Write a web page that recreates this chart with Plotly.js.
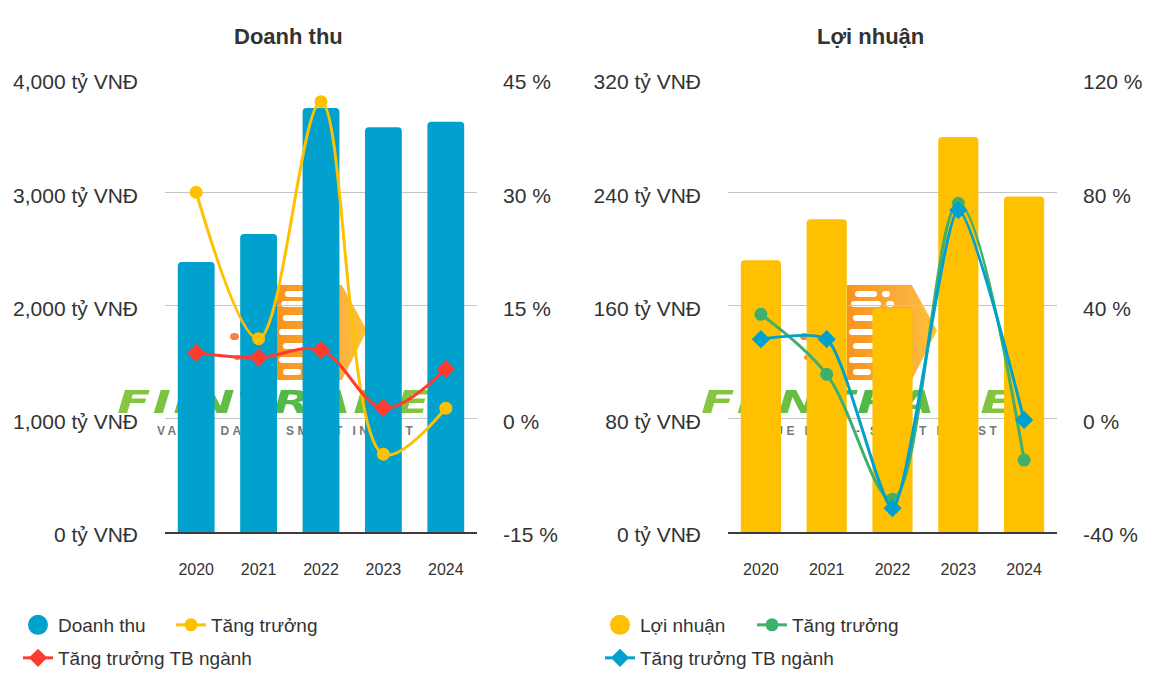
<!DOCTYPE html>
<html>
<head>
<meta charset="utf-8">
<script src="https://cdn.plot.ly/plotly-3.0.1.min.js"></script>
<style>
  html, body { margin:0; padding:0; background:#ffffff; }
  #wrap { position:relative; width:1157px; height:684px; overflow:hidden; }
  #chart { position:absolute; left:0; top:0; width:1157px; height:684px; z-index:2; }
  .wm { position:absolute; z-index:1; }
  .wm-text { font-family:"DejaVu Sans", sans-serif; font-weight:bold; font-style:italic;
    font-size:40px; letter-spacing:2px; line-height:40px; white-space:nowrap;
    background:linear-gradient(90deg,#8cc63f,#4db848 50%,#8cc63f); -webkit-background-clip:text;
    background-clip:text; color:transparent; transform:scaleX(1.22) scaleY(0.8); transform-origin:left top; }
  .wm-sub { font-family:"Liberation Sans", Arial, sans-serif; font-weight:bold; font-size:12px;
    letter-spacing:3.4px; color:#77787b; white-space:nowrap; }
  .wm-box { background:linear-gradient(90deg,#f7941d,#fbb040 70%,#fdc431);
    clip-path:polygon(0 0,72% 0,100% 48%,72% 100%,0 100%); }
  .pill { position:absolute; background:#fff; border-radius:4px; height:6px; }
  .dot { position:absolute; background:#f26f21; border-radius:50%; }
</style>
</head>
<body>
<div id="wrap">
  <div id="chart"></div>
</div>
<script>
// ---- data ----
const years = ['2020', '2021', '2022', '2023', '2024'];
const revenue = [2385, 2632, 3743, 3575, 3622];
const revenueGrowth = [30.0, 10.6, 42.0, -4.7, 1.4];
const revenueIndustry = [8.7, 8.1, 9.1, 1.4, 6.6];
const profit = [192, 221, 158, 279, 237];
const profitGrowth = [36.9, 15.7, -28.4, 76.1, -14.6];
const profitIndustry = [28.1, 28.1, -31.6, 73.7, -0.4];

const revenueTicks = [0, 1000, 2000, 3000, 4000];
const revenuePctTicks = [-15, 0, 15, 30, 45];
const profitTicks = [0, 80, 160, 240, 320];
const profitPctTicks = [-40, 0, 40, 80, 120];

const leftTitle = 'Doanh thu';
const rightTitle = 'Lợi nhuận';
const growthName = 'Tăng trưởng';
const industryName = 'Tăng trưởng TB ngành';

// ---- watermark (behind the transparent plot) ----
function addLogo(dxBox, dxText) {
  const wrap = document.getElementById('wrap');
  const box = document.createElement('div');
  box.className = 'wm wm-box';
  Object.assign(box.style, {left:(277+dxBox)+'px', top:'285px', width:'90px', height:'95px'});
  const rows = [[6,8,22],[16,4,30],[30,6,26],[44,2,34],[58,6,28],[72,2,24],[84,6,18]];
  rows.forEach(r => {
    const p = document.createElement('div');
    p.className = 'pill';
    Object.assign(p.style, {top:r[0]+'px', left:r[1]+'px', width:r[2]+'px'});
    box.appendChild(p);
    const p2 = document.createElement('div');
    p2.className = 'pill';
    Object.assign(p2.style, {top:r[0]+'px', left:(r[1]+r[2]+5)+'px', width:'8px'});
    box.appendChild(p2);
  });
  wrap.appendChild(box);
  const dots = [[258,290,5],[262,303,6],[250,312,7],[240,322,8],[262,326,6],[230,333,9],[252,338,7],[266,344,6],[234,355,7],[258,360,6],[248,372,5],[262,372,5]];
  dots.forEach(d => {
    const e = document.createElement('div');
    e.className = 'wm dot';
    Object.assign(e.style, {left:(d[0]+dxBox)+'px', top:d[1]+'px', width:d[2]+'px', height:(d[2]*0.75)+'px', opacity:0.85});
    wrap.appendChild(e);
  });
  const t = document.createElement('div');
  t.className = 'wm wm-text';
  t.textContent = 'FIINTRADE';
  Object.assign(t.style, {left:(117+dxText)+'px', top:'386px'});
  wrap.appendChild(t);
  const s = document.createElement('div');
  s.className = 'wm wm-sub';
  s.textContent = 'VALUE DATA - SMART INVEST';
  Object.assign(s.style, {left:(157+dxText)+'px', top:'424px'});
  wrap.appendChild(s);
}
addLogo(0, 0);
addLogo(570, 584);

// ---- plot ----
const W = 1157, H = 684;
const FONT = '"Liberation Sans", Arial, sans-serif';
const TXT = '#333333';
const BLUE = '#00a1cd', YELLOW = '#ffc000', RED = '#ff3b2f', GREEN = '#3faf6c';

const yTop = 1 - 79 / H, yBot = 1 - 532 / H;

function legendMarker(name, color, leg, xa, ya) {
  return {x:[null], y:[null], type:'scatter', mode:'markers', name:name, legend:leg,
    marker:{symbol:'circle', size:16, color:color, line:{color:color, width:4}},
    hoverinfo:'skip', xaxis:xa, yaxis:ya};
}

const traces = [
  {x:years, y:revenue, type:'bar', xaxis:'x', yaxis:'y', width:0.59, showlegend:false,
   marker:{color:BLUE, cornerradius:4}, hoverinfo:'skip'},
  legendMarker(leftTitle, BLUE, 'legend', 'x', 'y'),
  {x:years, y:revenueGrowth, type:'scatter', mode:'lines+markers', xaxis:'x', yaxis:'y2',
   name:growthName, legend:'legend', line:{color:YELLOW, width:3, shape:'spline', smoothing:1},
   marker:{symbol:'circle', size:13, color:YELLOW}, hoverinfo:'skip'},
  {x:years, y:revenueIndustry, type:'scatter', mode:'lines+markers', xaxis:'x', yaxis:'y2',
   name:industryName, legend:'legend2', line:{color:RED, width:3, shape:'spline', smoothing:1},
   marker:{symbol:'diamond', size:14, color:RED}, hoverinfo:'skip'},
  {x:years, y:profit, type:'bar', xaxis:'x2', yaxis:'y3', width:0.61, showlegend:false,
   marker:{color:YELLOW, cornerradius:4}, hoverinfo:'skip'},
  legendMarker(rightTitle, YELLOW, 'legend3', 'x2', 'y3'),
  {x:years, y:profitGrowth, type:'scatter', mode:'lines+markers', xaxis:'x2', yaxis:'y4',
   name:growthName, legend:'legend3', line:{color:GREEN, width:3, shape:'spline', smoothing:1},
   marker:{symbol:'circle', size:13, color:GREEN}, hoverinfo:'skip'},
  {x:years, y:profitIndustry, type:'scatter', mode:'lines+markers', xaxis:'x2', yaxis:'y4',
   name:industryName, legend:'legend4', line:{color:BLUE, width:3, shape:'spline', smoothing:0.6},
   marker:{symbol:'diamond', size:14, color:BLUE}, hoverinfo:'skip'}
];

const fmtNum = v => v.toLocaleString('en-US') + ' tỷ VNĐ';
const fmtPct = v => String(v) + ' %';

function xAxis(d0, d1, anchor) {
  return {domain:[d0 / W, d1 / W], anchor:anchor, type:'category', showgrid:false,
    showline:true, linecolor:'#3c3c3c', linewidth:1.5, ticks:'', ticklabelstandoff:22,
    tickfont:{family:FONT, size:16, color:TXT}, fixedrange:true};
}
function yLeft(range, vals, anchor) {
  return {domain:[yBot, yTop], anchor:anchor, range:range, tickmode:'array',
    tickvals:vals, ticktext:vals.map(fmtNum), showgrid:true, gridcolor:'#c4c4c4', gridwidth:1,
    zeroline:false, showline:false, ticks:'', ticklabelstandoff:26, ticklabelshift:3,
    tickfont:{family:FONT, size:21, color:TXT}, fixedrange:true};
}
function yRight(range, vals, over, anchor) {
  return {overlaying:over, side:'right', anchor:anchor, range:range, tickmode:'array',
    tickvals:vals, ticktext:vals.map(fmtPct), showgrid:false, zeroline:false, showline:false, ticks:'',
    ticklabelstandoff:25, ticklabelshift:3, tickfont:{family:FONT, size:21, color:TXT}, fixedrange:true};
}
function legendCfg(x, y, ew) {
  const c = {orientation:'h', x:x / W, xanchor:'left', y:1 - y / H, yanchor:'middle',
    bgcolor:'rgba(0,0,0,0)', borderwidth:0,
    font:{family:FONT, size:19, color:TXT}, traceorder:'normal', itemclick:false, itemdoubleclick:false};
  if (ew) { c.entrywidth = ew; c.entrywidthmode = 'pixels'; }
  return c;
}

const layout = {
  width:W, height:H, margin:{l:0, r:0, t:0, b:0},
  paper_bgcolor:'rgba(0,0,0,0)', plot_bgcolor:'rgba(0,0,0,0)',
  font:{family:FONT, color:TXT},
  showlegend:true,
  xaxis:xAxis(165, 477, 'y'),
  yaxis:yLeft([0, 4000], revenueTicks, 'x'),
  yaxis2:yRight([-15, 45], revenuePctTicks, 'y', 'x'),
  xaxis2:xAxis(728, 1057, 'y3'),
  yaxis3:yLeft([0, 320], profitTicks, 'x2'),
  yaxis4:yRight([-40, 120], profitPctTicks, 'y3', 'x2'),
  legend:legendCfg(18, 625, 108),
  legend2:legendCfg(18, 658, 0),
  legend3:legendCfg(600, 625, 107),
  legend4:legendCfg(600, 658, 0),
  annotations:[
    {text:'<b>' + leftTitle + '</b>', xref:'paper', yref:'paper', x:288 / W, y:1 - 37 / H,
     xanchor:'center', yanchor:'middle', showarrow:false, font:{family:FONT, size:22, color:TXT}},
    {text:'<b>' + rightTitle + '</b>', xref:'paper', yref:'paper', x:870 / W, y:1 - 37 / H,
     xanchor:'center', yanchor:'middle', showarrow:false, font:{family:FONT, size:22, color:TXT}}
  ]
};

Plotly.newPlot('chart', traces, layout, {displayModeBar:false, staticPlot:true});
</script>
</body>
</html>
